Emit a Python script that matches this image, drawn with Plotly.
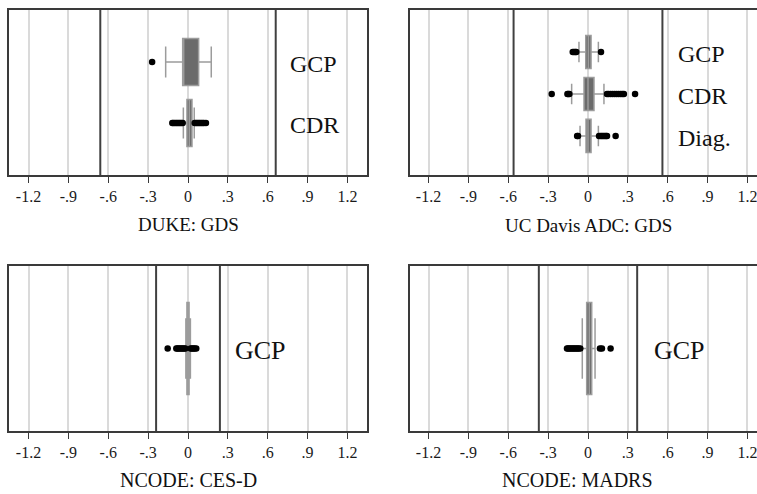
import plotly.graph_objects as go

W, H = 757, 494

# ---------------- data ----------------
tick_vals = [-1.2, -0.9, -0.6, -0.3, 0, 0.3, 0.6, 0.9, 1.2]
tick_text = ["-1.2", "-.9", "-.6", "-.3", "0", ".3", ".6", ".9", "1.2"]

panel_titles = ["DUKE: GDS", "UC Davis ADC: GDS", "NCODE: CES-D", "NCODE: MADRS"]
ref_limits = [0.66, 0.56, 0.24, 0.37]

duke_cats = ["GCP", "CDR"]
duke_q1 = [-0.04, -0.008]
duke_med = [-0.04, 0.01]
duke_q3 = [0.08, 0.03]
duke_lo = [-0.168, -0.035]
duke_hi = [0.175, 0.047]
duke_out_gcp = [-0.27]
duke_out_cdr = [-0.118, -0.11, -0.1, -0.09, -0.08, -0.07, -0.06, -0.05, -0.04,
                0.05, 0.06, 0.07, 0.08, 0.09, 0.1, 0.11, 0.12, 0.135]

ucd_cats = ["GCP", "CDR", "Diag."]
ucd_q1 = [-0.017, -0.03, -0.015]
ucd_med = [0.003, 0.0, 0.0]
ucd_q3 = [0.023, 0.045, 0.023]
ucd_lo = [-0.068, -0.123, -0.06]
ucd_hi = [0.078, 0.12, 0.078]
ucd_out_gcp = [-0.115, -0.105, -0.095, -0.088, 0.098]
ucd_out_cdr = [-0.273, -0.155, -0.148, -0.14,
               0.143, 0.155, 0.17, 0.185, 0.2, 0.215, 0.23, 0.245, 0.258, 0.27, 0.354]
ucd_out_diag = [-0.082, -0.075, 0.083, 0.095, 0.105, 0.115, 0.125, 0.135, 0.143, 0.208]

cesd_cats = ["GCP"]
cesd_q1 = [-0.008]
cesd_med = [0.0]
cesd_q3 = [0.008]
cesd_lo = [-0.016]
cesd_hi = [0.018]
cesd_out = [-0.153, -0.088, -0.08, -0.07, -0.06, -0.05, -0.04, -0.03, -0.02,
            0.02, 0.03, 0.04, 0.05, 0.062]

madrs_cats = ["GCP"]
madrs_q1 = [-0.01]
madrs_med = [0.01]
madrs_q3 = [0.028]
madrs_lo = [-0.043]
madrs_hi = [0.053]
madrs_out = [-0.158, -0.15, -0.14, -0.13, -0.12, -0.11, -0.1, -0.09, -0.08, -0.07, -0.058,
             0.09, 0.105, 0.17]

# ---------------- layout helpers ----------------
def px_x(p):
    return p / W

def px_y(p):
    return 1 - p / H

SCALE = 132.9  # px per unit
panels = [
    dict(xd=(9, 367), x0=188, yd=(10, 175), yr=[2.85, 0.149], bw=0.77, ww=0.66, lx=0.755, ls=24, mirror=True, tx=0.0, ty=224, ts=19),
    dict(xd=(410, 757), x0=588, yd=(10, 175), yr=[3.93, 0.0], bw=0.79, ww=0.62, lx=0.662, ls=24, mirror=False, tx=0.0, ty=225, ts=19),
    dict(xd=(9, 367), x0=188, yd=(266, 431), yr=[2.0, 0.0], bw=1.115, ww=0.66, lx=0.34, ls=26, mirror=True, tx=0.0, ty=480, ts=20),
    dict(xd=(410, 757), x0=588, yd=(266, 431), yr=[2.0, 0.0], bw=1.115, ww=0.66, lx=0.48, ls=26, mirror=False, tx=-0.08, ty=480, ts=20),
]

groups = [
    (duke_cats, duke_q1, duke_med, duke_q3, duke_lo, duke_hi, [duke_out_gcp, duke_out_cdr]),
    (ucd_cats, ucd_q1, ucd_med, ucd_q3, ucd_lo, ucd_hi, [ucd_out_gcp, ucd_out_cdr, ucd_out_diag]),
    (cesd_cats, cesd_q1, cesd_med, cesd_q3, cesd_lo, cesd_hi, [cesd_out]),
    (madrs_cats, madrs_q1, madrs_med, madrs_q3, madrs_lo, madrs_hi, [madrs_out]),
]

SERIF = "Liberation Serif"
BORDER = "#3a3a3a"
fig = go.Figure()
layout = dict(
    width=W, height=H, margin=dict(l=0, r=0, t=0, b=0),
    paper_bgcolor="white", plot_bgcolor="white",
    showlegend=False, boxmode="overlay",
    font=dict(family=SERIF, color="#111"),
)
annotations = []
shapes = []

for i, (pn, grp) in enumerate(zip(panels, groups)):
    n = i + 1
    xa = "x" if n == 1 else f"x{n}"
    ya = "y" if n == 1 else f"y{n}"
    xkey = "xaxis" if n == 1 else f"xaxis{n}"
    ykey = "yaxis" if n == 1 else f"yaxis{n}"
    lo_px, hi_px = pn["xd"]
    xr = [(lo_px - pn["x0"]) / SCALE, (hi_px - pn["x0"]) / SCALE]
    layout[xkey] = dict(
        domain=[px_x(lo_px), px_x(hi_px)], range=xr, anchor=ya,
        tickvals=tick_vals, ticktext=tick_text, ticks="outside", ticklen=6,
        tickwidth=1.3, tickcolor=BORDER, ticklabeloverflow="allow",
        showgrid=True, gridcolor="#dadada", gridwidth=1.5, zeroline=False,
        showline=True, linecolor=BORDER, linewidth=1.6, mirror=True,
        tickfont=dict(family=SERIF, size=16, color="#1a1a1a"),
        fixedrange=True,
    )
    layout[ykey] = dict(
        domain=[px_y(pn["yd"][1]), px_y(pn["yd"][0])], range=pn["yr"], anchor=xa,
        showgrid=False, zeroline=False, showticklabels=False, ticks="",
        showline=True, linecolor=BORDER, linewidth=1.6, mirror=pn["mirror"],
        fixedrange=True,
    )
    cats, q1, med, q3, lo, hi, outs = grp
    for j, cat in enumerate(cats):
        pos = j + 1
        fig.add_trace(go.Box(
            y=[pos], q1=[q1[j]], median=[med[j]], q3=[q3[j]],
            lowerfence=[lo[j]], upperfence=[hi[j]], orientation="h",
            width=pn["bw"], whiskerwidth=pn["ww"], boxpoints=False,
            fillcolor="#6b6b6b", line=dict(color="#9c9c9c", width=1.5),
            xaxis=xa, yaxis=ya, hoverinfo="skip",
        ))
        fig.add_trace(go.Scatter(
            x=outs[j], y=[pos] * len(outs[j]), mode="markers",
            marker=dict(color="black", size=6.5, line=dict(width=0)),
            xaxis=xa, yaxis=ya, hoverinfo="skip",
        ))
        annotations.append(dict(
            x=pn["lx"], y=pos, xref=xa, yref=ya, text=cat, showarrow=False,
            xanchor="left", yanchor="middle", yshift=-2,
            font=dict(family=SERIF, size=pn["ls"], color="#111"),
        ))
    for v in (-ref_limits[i], ref_limits[i]):
        shapes.append(dict(
            type="line", xref=xa, yref=f"{ya} domain", x0=v, x1=v, y0=0, y1=1,
            line=dict(color="#404040", width=2),
        ))
    annotations.append(dict(
        x=pn["tx"], y=px_y(pn["ty"]), xref=xa, yref="paper", text=panel_titles[i],
        showarrow=False, xanchor="center", yanchor="middle",
        font=dict(family=SERIF, size=pn["ts"], color="#111"),
    ))

layout["annotations"] = annotations
layout["shapes"] = shapes
fig.update_layout(**layout)
fig.write_html("out.html", config={"displayModeBar": False},
               post_script="document.body.style.margin='0px';")
